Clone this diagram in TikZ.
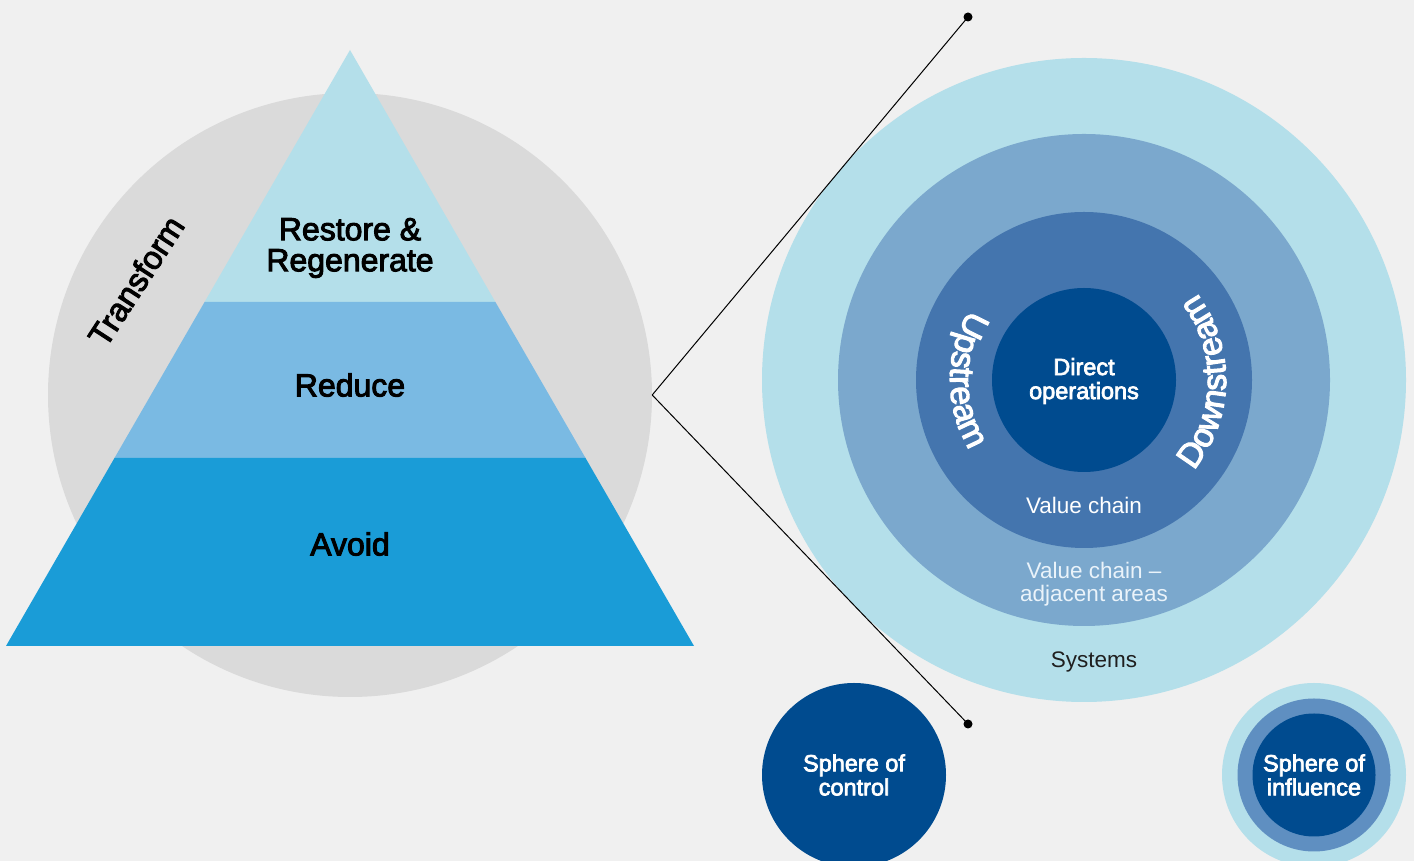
\documentclass[tikz,border=0pt]{standalone}
\usepackage{fontspec}
\setmainfont{Liberation Sans}
\newfontfamily\medfont[FakeBold=3]{Liberation Sans}
\usetikzlibrary{decorations.text}
\definecolor{bg}{HTML}{F0F0F0}
\definecolor{greyc}{HTML}{DADADA}
\definecolor{lightb}{HTML}{B4DFEA}
\definecolor{midb}{HTML}{7ABAE3}
\definecolor{strongb}{HTML}{1A9CD7}
\definecolor{ringb}{HTML}{7BA8CD}
\definecolor{vcb}{HTML}{4475AE}
\definecolor{darkb}{HTML}{004B8F}
\definecolor{infb}{HTML}{5F8FC1}
\definecolor{softw}{HTML}{EAF3FA}
\tikzset{
  disc/.style={circle, inner sep=0pt, draw=none},
  pyrtext/.style={font=\medfont\fontsize{32}{31}\selectfont, align=center, text=black},
  whitetext/.style={font=\medfont\fontsize{23.5}{24}\selectfont, align=center, text=white},
  lighttext/.style={font=\fontsize{22.5}{23}\selectfont, align=center},
  enddot/.style={circle, fill=black, inner sep=0pt, minimum size=9pt},
  leader/.style={draw=black, line width=1pt}
}
\begin{document}
\begin{tikzpicture}[x=1pt,y=1pt]
\useasboundingbox (0,0) rectangle (1414,861);
\fill[bg] (0,0) rectangle (1414,861);
% left: transform circle and pyramid
\node[disc, fill=greyc, minimum size=604pt] (trans) at (350,466) {};
\fill[lightb] (350,811) -- (204.6,559) -- (495.4,559) -- cycle;
\fill[midb] (204.6,559) -- (114.5,403) -- (585.5,403) -- (495.4,559) -- cycle;
\fill[strongb] (114.5,403) -- (6,215) -- (694,215) -- (585.5,403) -- cycle;
\node[pyrtext] (restore) at (350,613) {Restore \&\\Regenerate};
\node[pyrtext] (reduce) at (350,476) {Reduce};
\node[pyrtext] (avoid) at (350,317) {Avoid};
\node[pyrtext, rotate=57, font=\medfont\fontsize{32.5}{32}\selectfont] (transform) at (136,580) {Transform};
% right: concentric spheres
\node[disc, fill=lightb, minimum size=644pt] (sys) at (1084,481) {};
\node[disc, fill=ringb, minimum size=492pt] (vca) at (1084,481) {};
\node[disc, fill=vcb, minimum size=336pt] (vc) at (1084,481) {};
\node[disc, fill=darkb, minimum size=184pt] (dop) at (1084,481) {};
\node[whitetext] (doptext) at (1084,480) {Direct\\operations};
\node[lighttext, text=white] (vctext) at (1084,356) {Value chain};
\node[lighttext, text=softw] (vcatext) at (1094,277) {Value chain –\\adjacent areas};
\node[lighttext, text=black!88] (systext) at (1094,199) {Systems};
\path[decorate, decoration={text along path, text align=center, text color=white,
  text={|\medfont\fontsize{34}{34}\selectfont|Upstream}}]
  (1084,481) ++(140:134pt) arc[start angle=140, end angle=220, radius=134pt];
\path[decorate, decoration={text along path, text align=center, text color=white,
  text={|\medfont\fontsize{34}{34}\selectfont|Downstream}}]
  (1084,481) ++(-47:142pt) arc[start angle=-47, end angle=45, radius=142pt];
% leader lines
\node[enddot] (dtop) at (968,844) {};
\node[enddot] (dbot) at (968,137) {};
\draw[leader] (trans.east) -- (dtop.center);
\draw[leader] (trans.east) -- (dbot.center);
% small legend spheres
\node[disc, fill=darkb, minimum size=184pt, whitetext] (soc) at (854,86) {Sphere of\\control};
\node[disc, fill=lightb, minimum size=184pt] (soiouter) at (1314,86) {};
\node[disc, fill=infb, minimum size=153pt] (soimid) at (1314,86) {};
\node[disc, fill=darkb, minimum size=123pt, whitetext] (soi) at (1314,86) {Sphere of\\influence};
\end{tikzpicture}
\end{document}
